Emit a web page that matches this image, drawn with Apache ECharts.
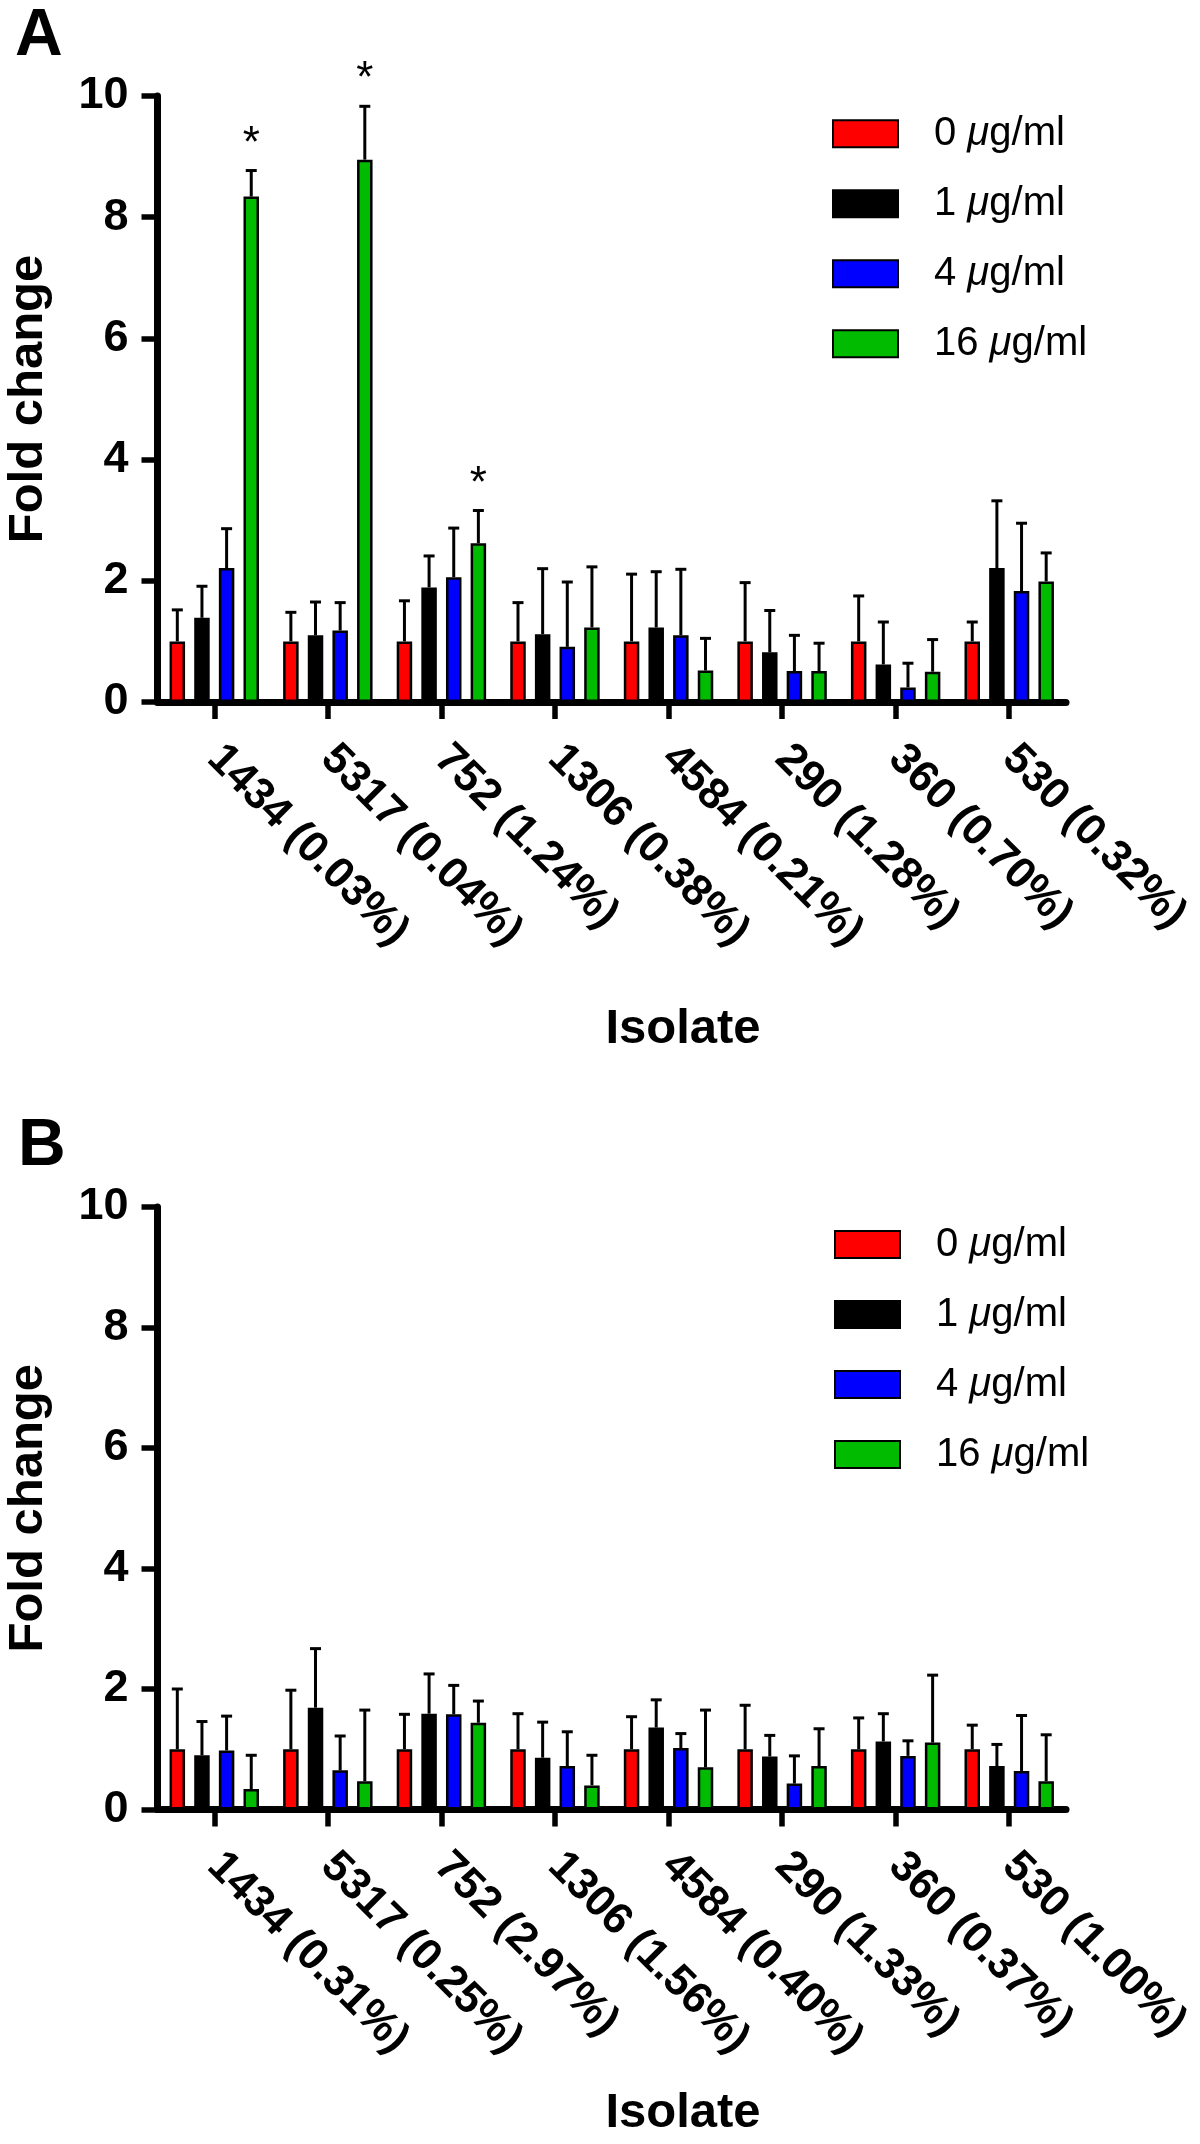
<!DOCTYPE html>
<html><head><meta charset="utf-8">
<script src="https://cdn.jsdelivr.net/npm/echarts@6/dist/echarts.min.js"></script>
<style>html,body{margin:0;padding:0;background:#fff}#c{width:1200px;height:2144px}</style>
</head><body><div id="c"></div>
<script>
// ---------- data ----------
const doseNames = ['0 μg/ml', '1 μg/ml', '4 μg/ml', '16 μg/ml'];
const yTicks = [0, 2, 4, 6, 8, 10];

const isolatesA = ['1434 (0.03%)', '5317 (0.04%)', '752 (1.24%)', '1306 (0.38%)', '4584 (0.21%)', '290 (1.28%)', '360 (0.70%)', '530 (0.32%)'];
const meanA0  = [1.00, 1.00, 1.00, 1.00, 1.00, 1.00, 1.00, 1.00];
const sdA0    = [0.52, 0.48, 0.67, 0.64, 1.11, 0.97, 0.75, 0.32];
const meanA1  = [1.39, 1.10, 1.89, 1.12, 1.23, 0.82, 0.62, 2.21];
const sdA1    = [0.52, 0.55, 0.52, 1.08, 0.92, 0.69, 0.70, 1.11];
const meanA4  = [2.21, 1.18, 2.06, 0.91, 1.10, 0.51, 0.24, 1.83];
const sdA4    = [0.65, 0.46, 0.81, 1.07, 1.09, 0.59, 0.40, 1.12];
const meanA16 = [8.34, 8.95, 2.62, 1.23, 0.52, 0.51, 0.50, 1.99];
const sdA16   = [0.43, 0.88, 0.54, 1.00, 0.53, 0.46, 0.53, 0.47];
const sigA16  = [1, 1, 1, 0, 0, 0, 0, 0];

const isolatesB = ['1434 (0.31%)', '5317 (0.25%)', '752 (2.97%)', '1306 (1.56%)', '4584 (0.40%)', '290 (1.33%)', '360 (0.37%)', '530 (1.00%)'];
const meanB0  = [1.00, 1.00, 1.00, 1.00, 1.00, 1.00, 1.00, 1.00];
const sdB0    = [1.00, 0.98, 0.58, 0.59, 0.54, 0.73, 0.52, 0.40];
const meanB1  = [0.90, 1.69, 1.59, 0.86, 1.36, 0.88, 1.13, 0.72];
const sdB1    = [0.56, 0.98, 0.66, 0.59, 0.46, 0.35, 0.46, 0.36];
const meanB4  = [0.98, 0.65, 1.58, 0.72, 1.02, 0.43, 0.89, 0.64];
const sdB4    = [0.57, 0.57, 0.48, 0.57, 0.24, 0.46, 0.25, 0.92];
const meanB16 = [0.34, 0.47, 1.44, 0.40, 0.70, 0.72, 1.11, 0.47];
const sdB16   = [0.56, 1.18, 0.36, 0.50, 0.95, 0.62, 1.12, 0.77];
const sigB16  = [0, 0, 0, 0, 0, 0, 0, 0];

// ---------- styles ----------
const FONT = '"Liberation Sans", Arial, Helvetica, sans-serif';
const doseColors = ['#ff0000', '#000000', '#0000ff', '#00bb00'];
const BAR_W = 15.5;
const BAR_GAP = 0.59;
const PITCH = BAR_W * (1 + BAR_GAP);

const panels = [
  { cats: isolatesA, means: [meanA0, meanA1, meanA4, meanA16], sds: [sdA0, sdA1, sdA4, sdA16], sig: sigA16,
    grid: { left: 157.5, top: 96, width: 908.5, height: 606 }, legendLeft: 832, legendTop: 113.7,
    letter: 'A', letterX: 15, letterY: 37, titleY: 1029 },
  { cats: isolatesB, means: [meanB0, meanB1, meanB4, meanB16], sds: [sdB0, sdB1, sdB4, sdB16], sig: sigB16,
    grid: { left: 157.5, top: 1207, width: 908.5, height: 602.5 }, legendLeft: 834, legendTop: 1224.6,
    letter: 'B', letterX: 18, letterY: 1147, titleY: 2113 }
];

function errSeries(g, d, means, sds, sig) {
  return {
    type: 'custom', xAxisIndex: g, yAxisIndex: g, z: 5, silent: true,
    data: means.map((m, i) => [i, m, sds[i], sig ? sig[i] : 0]),
    encode: { x: 0, y: 1 },
    renderItem(params, api) {
      const cat = api.value(0), m = api.value(1), sd = api.value(2), s = api.value(3);
      const b = api.coord([cat, m]);
      const t = api.coord([cat, m + sd]);
      const x = b[0] + (d - 1.5) * PITCH;
      const children = [
        { type: 'line', shape: { x1: x, y1: b[1], x2: x, y2: t[1] }, style: { stroke: '#000', lineWidth: 3 } },
        { type: 'line', shape: { x1: x - 5.5, y1: t[1], x2: x + 5.5, y2: t[1] }, style: { stroke: '#000', lineWidth: 3 } }
      ];
      if (s) {
        children.push({ type: 'text', x: x, y: t[1] - 26,
          style: { text: '*', fontSize: 44, fontFamily: FONT, fill: '#000', align: 'center', verticalAlign: 'middle' } });
      }
      return { type: 'group', children };
    }
  };
}

const grid = [], xAxis = [], yAxis = [], series = [], legend = [], graphic = [];
panels.forEach((p, g) => {
  grid.push(Object.assign({ containLabel: false }, p.grid));
  xAxis.push({
    type: 'category', gridIndex: g, data: p.cats,
    axisLine: { show: true, lineStyle: { color: '#000', width: 7 } },
    axisTick: { show: true, alignWithLabel: true, length: 17, lineStyle: { color: '#000', width: 5.5 } },
    axisLabel: { interval: 0, rotate: -45, margin: 50, fontSize: 44, fontWeight: 'bold', fontFamily: FONT, color: '#000' },
    splitLine: { show: false }
  });
  yAxis.push({
    type: 'value', gridIndex: g, min: yTicks[0], max: yTicks[yTicks.length - 1], interval: yTicks[1] - yTicks[0],
    axisLine: { show: true, lineStyle: { color: '#000', width: 7 } },
    axisTick: { show: true, length: 16, lineStyle: { color: '#000', width: 5.5 } },
    axisLabel: { margin: 29, fontSize: 45, fontWeight: 'bold', fontFamily: FONT, color: '#000' },
    splitLine: { show: false }
  });
  doseNames.forEach((name, d) => {
    series.push({
      type: 'bar', name, xAxisIndex: g, yAxisIndex: g, data: p.means[d],
      barWidth: BAR_W, barGap: (BAR_GAP * 100) + '%',
      itemStyle: { color: doseColors[d], borderColor: '#000', borderWidth: 2.5 },
      emphasis: { disabled: true }, silent: true
    });
  });
  doseNames.forEach((name, d) => {
    series.push(errSeries(g, d, p.means[d], p.sds[d], d === 3 ? p.sig : null));
  });
  legend.push({
    data: doseNames, orient: 'vertical', left: p.legendLeft, top: p.legendTop, padding: 0,
    itemWidth: 65, itemHeight: 27, itemGap: 30, icon: 'rect', selectedMode: false,
    formatter: (name) => {
      const parts = name.split(' ');
      return '{n|' + parts[0] + ' }{mu|' + parts[1].charAt(0) + '}{n|' + parts[1].slice(1) + '}';
    },
    textStyle: {
      color: '#000', fontFamily: FONT, fontSize: 40, lineHeight: 40, padding: [0, 0, 0, 31],
      rich: {
        n: { fontSize: 40, fontFamily: FONT, color: '#000', lineHeight: 40 },
        mu: { fontSize: 40, fontFamily: FONT, fontStyle: 'italic', color: '#000', lineHeight: 40 }
      }
    }
  });
  graphic.push({ type: 'text', x: p.letterX, y: p.letterY,
    style: { text: p.letter, fontSize: 66, fontWeight: 'bold', fontFamily: FONT, fill: '#000', align: 'left', verticalAlign: 'middle' } });
  graphic.push({ type: 'text', x: 28, y: p.grid.top + p.grid.height / 2, rotation: Math.PI / 2,
    style: { text: 'Fold change', fontSize: 49, fontWeight: 'bold', fontFamily: FONT, fill: '#000', align: 'center', verticalAlign: 'middle' } });
  graphic.push({ type: 'text', x: 683, y: p.titleY,
    style: { text: 'Isolate', fontSize: 49, fontWeight: 'bold', fontFamily: FONT, fill: '#000', align: 'center', verticalAlign: 'middle' } });
});

const chart = echarts.init(document.getElementById('c'), null, { renderer: 'canvas' });
chart.setOption({
  backgroundColor: '#ffffff',
  animation: false,
  grid, xAxis, yAxis, series, legend, graphic,
  tooltip: { show: false }
});
</script>
</body></html>
